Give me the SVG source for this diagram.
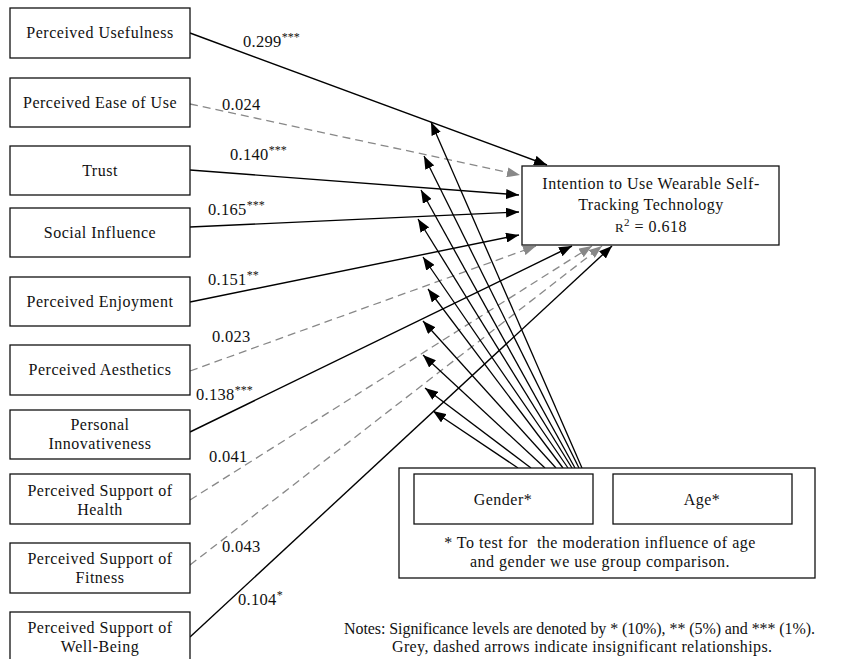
<svg xmlns="http://www.w3.org/2000/svg" width="852" height="659" viewBox="0 0 852 659">
<style>
text{font-family:"Liberation Serif","DejaVu Serif",serif;fill:#111;white-space:pre}
.node rect{fill:#fff;stroke:#111;stroke-width:1.3}
.nt{font-size:16px;text-anchor:middle;letter-spacing:0.5px}
.lbl{font-size:16.5px;letter-spacing:0.3px}
.sup{font-size:12px;letter-spacing:0}
.s{stroke:#000;stroke-width:1.4;fill:none;marker-end:url(#ah)}
.d{stroke:#888;stroke-width:1.3;fill:none;stroke-dasharray:8 5;marker-end:url(#ahg)}
.m{stroke:#000;stroke-width:1.3;fill:none;marker-end:url(#ah)}
</style>
<defs>
<marker id="ah" viewBox="0 0 13 10" refX="13" refY="5" markerWidth="13" markerHeight="10" markerUnits="userSpaceOnUse" orient="auto"><path d="M0,0 L13,5 L0,10 z" fill="#000"/></marker>
<marker id="ahg" viewBox="0 0 13 10" refX="13" refY="5" markerWidth="13" markerHeight="10" markerUnits="userSpaceOnUse" orient="auto"><path d="M0,0 L13,5 L0,10 z" fill="#888"/></marker>
</defs>
<rect width="852" height="659" fill="#fff"/>
<g id="connectors">
<path class="s" d="M190,33 L547,165"/>
<path class="d" d="M190,104 L520,175"/>
<path class="s" d="M190,170 L519,195"/>
<path class="s" d="M190,227 L519,212"/>
<path class="s" d="M190,302 L519,235"/>
<path class="d" d="M190,371 L536,246"/>
<path class="s" d="M190,432 L572,246"/>
<path class="d" d="M190,500 L592,246"/>
<path class="d" d="M190,565 L602,246"/>
<path class="s" d="M190,637 L612,246"/>
<path class="m" d="M518,468 L433,411"/>
<path class="m" d="M531,468 L425,388"/>
<path class="m" d="M545,468 L423,355"/>
<path class="m" d="M556,468 L423,321"/>
<path class="m" d="M563,468 L428,289"/>
<path class="m" d="M568,468 L423,257"/>
<path class="m" d="M572,468 L418,219"/>
<path class="m" d="M575,468 L421,190"/>
<path class="m" d="M579,468 L424,156"/>
<path class="m" d="M582,468 L431,122"/>
</g>
<g id="labels" class="lbl">
<text x="243" y="47">0.299<tspan class="sup" dy="-6">***</tspan></text>
<text x="222" y="110">0.024</text>
<text x="230" y="160">0.140<tspan class="sup" dy="-6">***</tspan></text>
<text x="208" y="215">0.165<tspan class="sup" dy="-6">***</tspan></text>
<text x="208" y="285">0.151<tspan class="sup" dy="-6">**</tspan></text>
<text x="212" y="342">0.023</text>
<text x="196" y="400">0.138<tspan class="sup" dy="-6">***</tspan></text>
<text x="209" y="462">0.041</text>
<text x="222" y="552">0.043</text>
<text x="238" y="605">0.104<tspan class="sup" dy="-6">*</tspan></text>
</g>
<g id="n1" class="node"><rect x="10" y="8" width="180" height="50"/><text class="nt" x="100" y="38">Perceived Usefulness</text></g>
<g id="n2" class="node"><rect x="10" y="78" width="180" height="49"/><text class="nt" x="100" y="108">Perceived Ease of Use</text></g>
<g id="n3" class="node"><rect x="10" y="146" width="180" height="49"/><text class="nt" x="100" y="176">Trust</text></g>
<g id="n4" class="node"><rect x="10" y="208" width="180" height="49"/><text class="nt" x="100" y="238">Social Influence</text></g>
<g id="n5" class="node"><rect x="10" y="277" width="180" height="49"/><text class="nt" x="100" y="307">Perceived Enjoyment</text></g>
<g id="n6" class="node"><rect x="10" y="345" width="180" height="50"/><text class="nt" x="100" y="375">Perceived Aesthetics</text></g>
<g id="n7" class="node"><rect x="10" y="410" width="180" height="49"/><text class="nt" x="100" y="430">Personal</text><text class="nt" x="100" y="449">Innovativeness</text></g>
<g id="n8" class="node"><rect x="10" y="474" width="180" height="50"/><text class="nt" x="100" y="496">Perceived Support of</text><text class="nt" x="100" y="515">Health</text></g>
<g id="n9" class="node"><rect x="10" y="543" width="180" height="50"/><text class="nt" x="100" y="564">Perceived Support of</text><text class="nt" x="100" y="583">Fitness</text></g>
<g id="n10" class="node"><rect x="10" y="612" width="180" height="50"/><text class="nt" x="100" y="633">Perceived Support of</text><text class="nt" x="100" y="652">Well-Being</text></g>
<g id="target" class="node"><rect x="522" y="166" width="257" height="79"/>
<text class="nt" x="651" y="189">Intention to Use Wearable Self-</text>
<text class="nt" x="651" y="210">Tracking Technology</text>
<text class="nt" x="651" y="232"><tspan font-size="13">R</tspan><tspan font-size="11" dy="-6">2</tspan><tspan dy="6"> = 0.618</tspan></text></g>
<g id="moderation" class="node"><rect x="399" y="468" width="416" height="110"/>
<text class="nt" x="600" y="548">* To test for  the moderation influence of age</text>
<text class="nt" x="600" y="567">and gender we use group comparison.</text></g>
<g id="gender" class="node"><rect x="414" y="474" width="179" height="50"/><text class="nt" x="503" y="505">Gender*</text></g>
<g id="age" class="node"><rect x="613" y="474" width="179" height="50"/><text class="nt" x="702" y="505">Age*</text></g>
<g id="notes">
<text x="344" y="634" font-size="16" textLength="471" lengthAdjust="spacing">Notes: Significance levels are denoted by * (10%), ** (5%) and *** (1%).</text>
<text x="392" y="652" font-size="16" textLength="380" lengthAdjust="spacing">Grey, dashed arrows indicate insignificant relationships.</text>
</g>
</svg>
